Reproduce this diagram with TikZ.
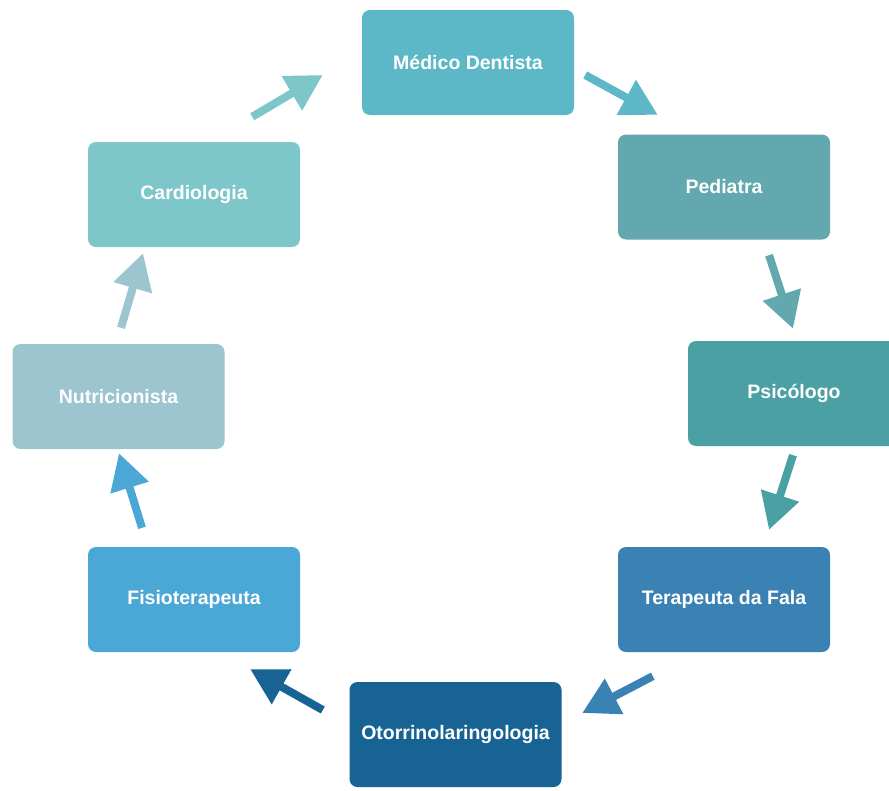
\documentclass[tikz,border=0pt]{standalone}
\usepackage{fontspec}
\setmainfont{Liberation Sans}
\usetikzlibrary{arrows.meta,calc}

\definecolor{cDentista}{HTML}{5CB7C6}
\definecolor{cPediatra}{HTML}{62A8AE}
\definecolor{cPsicologo}{HTML}{4AA0A3}
\definecolor{cTerapeuta}{HTML}{3A82B3}
\definecolor{cOtorrino}{HTML}{176393}
\definecolor{cFisio}{HTML}{4BA7D6}
\definecolor{cNutri}{HTML}{9CC5CF}
\definecolor{cCardio}{HTML}{7DC7CA}

\tikzset{
  specbox/.style={fill=#1, rounded corners=8pt, minimum width=212pt, minimum height=105pt,
    inner sep=0pt, text=white, font=\fontsize{19.5}{22}\selectfont\bfseries},
  cyclearrow/.style={draw=#1, line width=8pt, -{Triangle[length=36pt,width=38pt]}}
}

\begin{document}
\begin{tikzpicture}[x=1pt,y=-1pt]
  \clip (0,0) rectangle (889,790);
  \useasboundingbox (0,0) rectangle (889,790);
  \node[specbox=cDentista] (dentista) at (468,62.5) {Médico Dentista};
  \node[specbox=cPediatra] (pediatra) at (724,187) {Pediatra};
  \node[specbox=cPsicologo] (psicologo) at (794,393.5) {Psicólogo};
  \node[specbox=cTerapeuta] (terapeuta) at (724,599.5) {Terapeuta da Fala};
  \node[specbox=cOtorrino] (otorrino) at (455.5,734.5) {Otorrinolaringologia};
  \node[specbox=cFisio] (fisio) at (194,599.5) {Fisioterapeuta};
  \node[specbox=cNutri] (nutri) at (118.5,396.5) {Nutricionista};
  \node[specbox=cCardio] (cardio) at (194,194.5) {Cardiologia};
  % arrows round the cycle
  \draw[cyclearrow=cDentista] ($(dentista.east)+(11,12.5)$) -- ($(pediatra.north west)+(40,-19.5)$);
  \draw[cyclearrow=cPediatra] ($(pediatra.south)+(45,15.5)$) -- ($(psicologo.north)+(-1,-12)$);
  \draw[cyclearrow=cPsicologo] ($(psicologo.south)+(-1,9)$) -- ($(terapeuta.north)+(45,-17)$);
  \draw[cyclearrow=cTerapeuta] ($(terapeuta.south west)+(35,24)$) -- ($(otorrino.east)+(20.5,-21.5)$);
  \draw[cyclearrow=cOtorrino] ($(otorrino.west)+(-26.5,-24.5)$) -- ($(fisio.south east)+(-50,17)$);
  \draw[cyclearrow=cFisio] ($(fisio.north)+(-52,-19)$) -- ($(nutri.south)+(0.5,4)$);
  \draw[cyclearrow=cNutri] ($(nutri.north)+(2.5,-16)$) -- ($(cardio.south)+(-51,6)$);
  \draw[cyclearrow=cCardio] ($(cardio.north east)+(-48,-25)$) -- ($(dentista.west)+(-39,12.5)$);
\end{tikzpicture}
\end{document}
